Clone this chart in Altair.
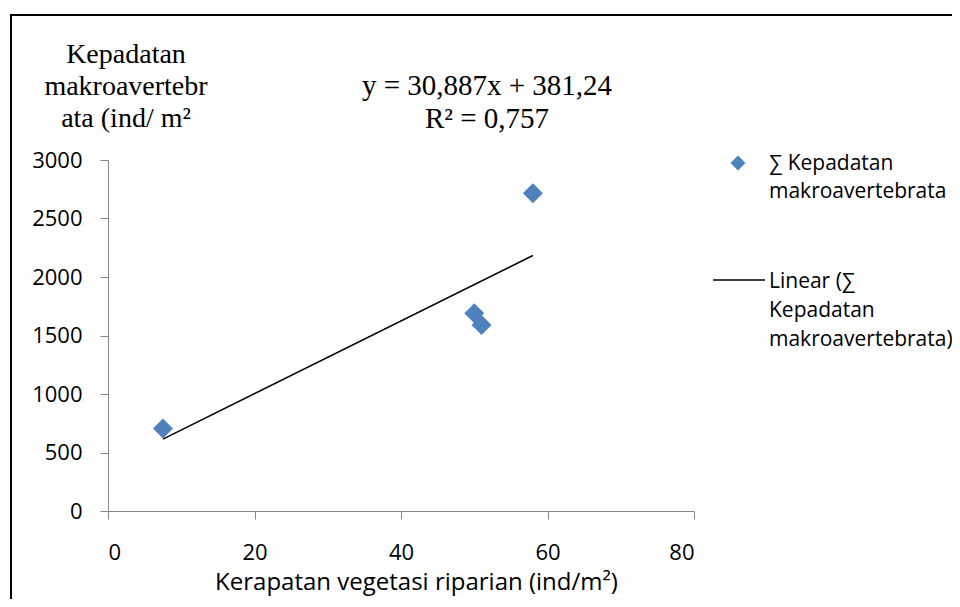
import altair as alt
import pandas as pd

# ---- data ----
veg = [7.5, 50.0, 51.0, 58.0]            # Kerapatan vegetasi riparian (ind/m2)
makro = [705, 1690, 1590, 2715]          # Kepadatan makroavertebrata (ind/m2)
x_ticks = [0, 20, 40, 60, 80]
y_ticks = [0, 500, 1000, 1500, 2000, 2500, 3000]
y_title_lines = ["Kepadatan", "makroavertebr", "ata (ind/ m²"]
eq_lines = ["y = 30,887x + 381,24", "R² = 0,757"]
legend_point_lines = ["∑ Kepadatan", "makroavertebrata"]
legend_line_lines = ["Linear (∑", "Kepadatan", "makroavertebrata)"]
x_title = "Kerapatan vegetasi riparian (ind/m²)"

df = pd.DataFrame({"veg": veg, "makro": makro})

SANS = "Open Sans"
SERIF = "Liberation Serif"
AXIS_GREY = "#868686"
BLUE = "#4F81BD"

x_enc = alt.X(
    "veg:Q",
    scale=alt.Scale(domain=[0, 80], nice=False, zero=False),
    axis=alt.Axis(
        values=x_ticks, title=x_title, grid=False, format="d",
        domainColor=AXIS_GREY, tickColor=AXIS_GREY, tickSize=8,
        labelFont=SANS, labelFontSize=22, labelColor="black",
        labelPadding=23, labelBaseline="top",
        titleFont=SANS, titleFontSize=24, titleFontWeight="normal", titleColor="black",
        titleX=308, titleY=78, titleBaseline="alphabetic",
    ),
)
y_enc = alt.Y(
    "makro:Q",
    scale=alt.Scale(domain=[0, 3000], nice=False),
    axis=alt.Axis(
        values=y_ticks, title="", grid=False, format="d",
        domainColor=AXIS_GREY, tickColor=AXIS_GREY, tickSize=8,
        labelFont=SANS, labelFontSize=22, labelColor="black",
        labelPadding=18,
    ),
)

base = alt.Chart(df)

points = base.mark_point(shape="diamond", filled=True, size=400, color=BLUE, opacity=1).encode(
    x=x_enc, y=y_enc
)
trend = base.transform_regression("veg", "makro").mark_line(color="black", strokeWidth=1.5).encode(
    x=alt.X("veg:Q"), y=alt.Y("makro:Q")
)


def text_line(text, x, y, font, size, align="left"):
    return alt.Chart(pd.DataFrame({"t": [text]})).mark_text(
        align=align, baseline="alphabetic", font=font, fontSize=size, color="black"
    ).encode(x=alt.value(x), y=alt.value(y), text="t:N")


one = pd.DataFrame({"k": [0]})

border = alt.Chart(one).mark_rect(fillOpacity=0, stroke="black", strokeWidth=2).encode(
    x=alt.value(-97), x2=alt.value(900), y=alt.value(-145), y2=alt.value(600)
)

layers = [border, trend, points]

# y title (serif, top-left)
for i, s in enumerate(y_title_lines):
    layers.append(text_line(s, 18, -97 + 32 * i, SERIF, 28, "center"))
# equation
for i, s in enumerate(eq_lines):
    layers.append(text_line(s, 379, -65 + 33 * i, SERIF, 29, "center"))

# legend
leg_pt = alt.Chart(one).mark_point(shape="diamond", filled=True, size=225, color=BLUE, opacity=1).encode(
    x=alt.value(630), y=alt.value(3)
)
leg_ln = alt.Chart(one).mark_rule(color="black", strokeWidth=1.5).encode(
    x=alt.value(605), x2=alt.value(657), y=alt.value(120)
)
layers += [leg_pt, leg_ln]
for i, s in enumerate(legend_point_lines):
    layers.append(text_line(s, 661, 10 + 28 * i, SANS, 21))
for i, s in enumerate(legend_line_lines):
    layers.append(text_line(s, 661, 128 + 29 * i, SANS, 21))

chart = alt.layer(*layers).properties(
    width=586, height=351,
    autosize=alt.AutoSizeParams(type="none"),
    padding={"left": 100, "top": 152, "right": 258, "bottom": 88},
    background="white",
).configure_view(stroke=None)

chart.save("out.html", embed_options={"renderer": "svg", "actions": False})
